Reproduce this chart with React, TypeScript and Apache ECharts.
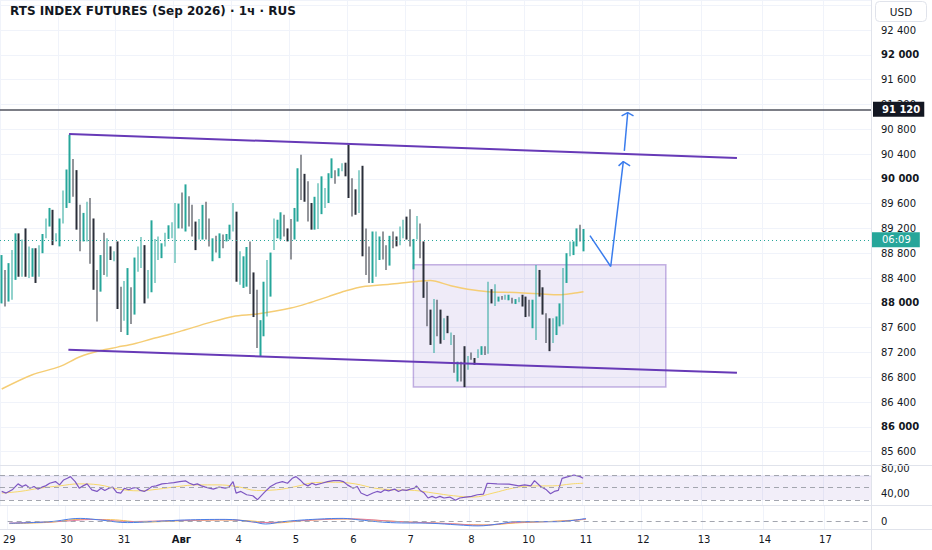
import React, { useEffect, useRef } from 'react';
import * as echarts from 'echarts';

// ---------- data ----------
const TITLE = 'RTS INDEX FUTURES (Sep 2026) · 1ч · RUS';
const N = 256; // hourly slots on the time axis (incl. future space)

const dayLabels = ['29', '30', '31', 'Авг', '4', '5', '6', '7', '8', '10', '11', '12', '13', '14', '17'];
const dayIndex = [0, 17, 34, 51, 68, 85, 102, 119, 137, 154, 171, 188, 206, 224, 242];

const highs = [
  88770, 88530, 88640, 88850, 89120, 89120, 89020, 89200, 88910, 88880, 88880, 88930, 89110, 89360, 89530, 89500, 89120,
  89360, 89810, 90150, 90710, 90320, 90140, 89580, 89450, 89630, 89690, 89360, 88530, 88770, 89130, 89040, 88910, 88830,
  88990, 88260, 88350, 88560, 88250, 88730, 88910, 89060, 88930, 88530, 89330, 89030, 89070, 88960, 89130, 89250, 89300,
  89610, 89600, 89780, 89910, 89720, 89580, 89310, 89350, 89580, 89630, 89360, 89040, 89080, 89120, 89100, 89110, 89260,
  89610, 89470, 88830, 88750, 88900, 88990, 88490, 88210, 87720, 88340, 88690, 88810, 89360, 89340, 89460, 89420, 89200,
  89350, 89530, 90170, 90390, 90080, 89960, 89610, 89710, 89930, 90040, 89850, 90090, 90330, 90140, 90170, 90250, 90260,
  90550, 90010, 89830, 90140, 90210, 89200, 88910, 89150, 89150, 89070, 89150, 88930, 89080, 89150, 89070, 89230, 89340,
  89390, 89510, 89030, 89400, 89280, 88990, 88340, 87890, 88060, 88050, 87890, 87750, 87790, 87520, 87480, 87050, 87050,
  87300, 87140, 87200, 87110, 87250, 87300, 87300, 88340, 88220, 88300, 88100, 88110, 88130, 88130, 88080, 88060, 88090,
  88130, 88100, 88050, 88050, 88610, 88530, 88250, 87830, 87750, 87750, 87780, 87990, 88560, 88800, 88990, 88990, 89200,
  89260, 89190,
];
const lows = [
  87990, 87940, 88020, 88050, 88370, 88420, 88420, 88420, 88400, 88420, 88320, 88420, 88800, 89040, 89230, 88930, 88990,
  88910, 89280, 89530, 89610, 89710, 89180, 88830, 88990, 88990, 88630, 88210, 87700, 88180, 88450, 88420, 88690, 88670,
  87900, 87530, 87710, 87480, 87660, 87810, 88500, 88560, 87990, 88070, 88170, 88320, 88690, 88720, 88910, 89030, 89040,
  88640, 89200, 89200, 89150, 89230, 89070, 88850, 89020, 89020, 89020, 88910, 88670, 88810, 88720, 88880, 88990, 89020,
  89150, 88340, 88290, 88240, 88260, 88140, 87770, 87270, 87130, 87460, 87780, 88100, 88850, 89040, 89020, 89070, 88990,
  88700, 89020, 89310, 89660, 89630, 89310, 89180, 89180, 89190, 89430, 89530, 89610, 90010, 89920, 90040, 90120, 90040,
  89690, 89390, 89420, 89450, 88750, 88450, 88320, 88320, 88420, 88690, 88700, 88530, 88600, 88880, 88910, 88930, 89040,
  89020, 88910, 88540, 89020, 88720, 88080, 87620, 87320, 87190, 87460, 87340, 87400, 87510, 87320, 86870, 86730, 86730,
  86640, 86920, 87080, 87000, 87110, 87160, 87160, 87180, 87990, 87950, 88020, 88050, 88050, 88040, 87990, 87980, 88010,
  87940, 87770, 87780, 87590, 87400, 88100, 87810, 87350, 87220, 87350, 87480, 87620, 87650, 88320, 88750, 88770, 88910,
  88990, 88830,
];
// 1 = rising (teal) candle, 0 = falling (dark) candle
const rising = [
  1, 0, 1, 1, 1, 0, 1, 0, 1, 1, 0, 1, 1, 1, 1, 0, 1,
  1, 1, 1, 1, 0, 0, 0, 1, 1, 0, 0, 0, 1, 0, 1, 0, 1,
  0, 0, 1, 1, 0, 1, 1, 1, 0, 1, 1, 1, 1, 1, 1, 1, 1,
  1, 1, 0, 1, 0, 0, 0, 1, 1, 0, 0, 1, 0, 1, 0, 1, 1,
  1, 0, 1, 1, 1, 0, 0, 0, 1, 1, 1, 1, 1, 1, 1, 0, 0,
  0, 1, 1, 0, 0, 0, 0, 1, 1, 1, 1, 1, 1, 0, 1, 1, 0,
  0, 0, 0, 1, 0, 0, 0, 1, 1, 1, 0, 0, 1, 0, 0, 1, 1,
  0, 0, 1, 1, 0, 0, 0, 0, 1, 0, 0, 1, 0, 1, 0, 1, 0,
  0, 1, 0, 0, 1, 1, 0, 1, 0, 1, 1, 0, 1, 1, 0, 1, 1,
  0, 0, 0, 1, 1, 0, 0, 0, 0, 1, 1, 1, 1, 1, 1, 1, 1,
  0, 1,
];

// moving average on price [slot, price]
const maPoints = [
  [0, 86610], [9, 86840], [17, 86970], [23, 87130], [29, 87230], [34, 87285], [39, 87340], [44, 87415], [50, 87500],
  [54, 87565], [61, 87680], [68, 87780], [75, 87820], [85, 87915], [91, 88010], [96, 88100], [101, 88190], [106, 88260],
  [114, 88300], [122, 88345], [126, 88360], [132, 88275], [137, 88220], [143, 88180], [151, 88165], [158, 88145],
  [164, 88130], [168, 88155], [171, 88180],
];

// drawings
const upperTrend = [[19.8, 90724], [216.1, 90337]];
const lowerTrend = [[19.6, 87242], [216.1, 86871]];
const rangeBox = [[121, 88612], [195.2, 86640]];
const arrowPath = [[172.9, 89084], [179, 88585], [182.7, 90277]];
const arrowHead1 = [[181.3, 90208], [182.7, 90277], [184.7, 90208]];
const arrowPath2 = [[183, 90450], [184, 91067]];
const arrowHead2 = [[182.2, 91014], [184, 91067], [185.7, 91014]];
const levelPrice = 91120;
const lastPrice = 89016;
const countdown = '06:09';

// RSI pane
const rsiPoints = [
  [0, 43.7], [1.3, 41.1], [3.1, 46.3], [4.8, 55.8], [6, 51.6], [7.1, 54.2], [8.3, 48.9], [9.5, 51.6], [10.6, 47.4],
  [11.8, 50.5], [12.9, 52.6], [14.1, 56.8], [15.8, 59.5], [17, 54.2], [18.2, 62.1], [19.3, 64.7], [20.2, 67.4],
  [21.6, 59.5], [22.8, 48.9], [23.9, 52.6], [25.1, 55.8], [26.5, 46.3], [28, 43.7], [29.2, 48.9], [30.3, 45.3],
  [31.5, 48.9], [32.6, 50.5], [33.8, 42.1], [35, 41.1], [36.1, 48.9], [37.3, 46.3], [38.4, 48.9], [39.6, 50],
  [40.7, 45.3], [41.9, 43.7], [43.1, 47.4], [44.2, 51.6], [45.4, 52.6], [47.1, 55.8], [48.9, 56.8], [50.6, 57.9],
  [52.3, 59.5], [54.1, 60.5], [55.2, 56.8], [56.4, 54.2], [57.5, 55.8], [58.7, 52.6], [59.9, 50.5], [61, 48.9],
  [62.2, 47.4], [63.9, 50.5], [65.7, 48.9], [66.8, 50.5], [68, 59.5], [68.9, 41.1], [70.3, 43.7], [72, 38.4],
  [73.8, 36.8], [75.2, 30.5], [76.1, 35.8], [77.2, 42.1], [79, 51.6], [80.7, 56.8], [82.5, 59.5], [84, 56.8],
  [85.4, 64.7], [86.5, 67.4], [87.7, 62.1], [88.8, 55.8], [90, 52.6], [91.2, 56.8], [92.3, 54.2], [94.1, 56.8],
  [95.8, 59.5], [97.5, 61.1], [99.3, 61.1], [100.4, 59.5], [101.6, 54.2], [103.3, 48.9], [104.5, 51.6], [105.6, 41.1],
  [107.4, 36.8], [109.1, 41.1], [110.3, 43.7], [111.4, 42.1], [112.6, 46.3], [113.7, 44.7], [115.5, 47.4],
  [116.6, 43.7], [117.8, 46.3], [119, 45.3], [120.1, 47.4], [121.3, 48.9], [121.9, 52.6], [123, 45.3], [124.2, 41.1],
  [125.3, 33.2], [126.5, 35.8], [127.6, 33.2], [128.8, 35.8], [130, 33.2], [131.7, 34.7], [133.4, 29.5], [134.6, 33.2],
  [136.4, 34.7], [138.1, 35.8], [139.8, 38.4], [141.6, 39.5], [142.7, 56.8], [145.6, 55.8], [149.1, 55.3], [152, 52.6],
  [153.7, 54.2], [155.5, 52.6], [156.6, 61.1], [158.4, 51.6], [160.1, 46.3], [161.3, 40], [162.4, 43.7], [163.6, 45.3],
  [164.7, 64.7], [166.5, 67.4], [168.2, 70], [170, 67.4], [170.9, 64.7],
];
const rsiMaPoints = [
  [0, 41.1], [5.4, 43.7], [11.2, 48.9], [17, 52.6], [22.8, 55.8], [28.6, 54.2], [34.4, 47.4], [40.2, 44.7], [46, 47.4],
  [51.8, 51.6], [57.6, 54.2], [63.3, 54.2], [69.1, 51.6], [74.9, 45.3], [80.7, 46.3], [86.5, 51.6], [92.3, 57.9],
  [98.1, 58.4], [103.9, 55.8], [109.7, 48.9], [115.5, 46.3], [121.3, 45.3], [127, 41.1], [132.8, 36.8], [138.6, 34.7],
  [144.4, 41.1], [150.2, 48.9], [156, 52.6], [161.8, 52.6], [167.6, 55.8], [170.9, 56.8],
];
const rsiBands = [70, 50, 30];

// lower oscillator pane
const oscBlue = [
  [0, -2.3], [12, -0.7], [21, 2.6], [27, 1], [35, -1.6], [42, -0.7], [52, 1], [64, 1.6], [72, -0.7], [76, -3],
  [81, -0.7], [90, 1.6], [99, 2.6], [104, 1], [113, -1.6], [125, -2.3], [133, -3.9], [139, -4.9], [145, -3],
  [150, -0.7], [162, -0.7], [171, 2.6],
];
const oscOrange = [
  [0, -2.6], [12, -1.3], [21, 1.6], [30, 1.3], [40, -1], [52, 0.3], [64, 1], [72, 0], [78, -2], [88, 0.5], [99, 2],
  [108, 0.8], [118, -1], [128, -2.3], [136, -3.6], [142, -3.9], [150, -2], [160, -0.5], [171, 1.6],
];
const oscPink = [
  [0, -2], [15, -0.5], [25, 1.5], [35, -0.5], [50, 0.5], [65, 1.2], [75, -1.5], [90, 1], [100, 2.2], [115, -0.5],
  [130, -2.5], [140, -4.2], [150, -1.5], [165, 0], [171, 2],
];

// ---------- styling ----------
const FONT = '"DejaVu Sans", sans-serif';
const UP = '#26a69a';
const DOWN = '#2a2e39';
const TEXT = '#131722';
const GRIDC = '#f0f3fa';
const BORDER = '#e0e3eb';
const PURPLE = '#673ab7';
const BLUE = '#3b7ded';

function fmtPrice(v: number) {
  const t = Math.floor(v / 1000);
  const r = String(Math.round(v % 1000)).padStart(3, '0');
  return `${t} ${r}`;
}

export default function App() {
  const ref = useRef<HTMLDivElement>(null);

  useEffect(() => {
    document.body.style.margin = '0';
    if (!ref.current) return;
    const chart = echarts.init(ref.current, null, { renderer: 'svg' });

    const cats = Array.from({ length: N }, (_, i) => String(i));
    const labelAt: Record<number, string> = {};
    dayIndex.forEach((d, k) => (labelAt[d] = dayLabels[k]));
    const isDay = (i: number) => labelAt[i] !== undefined;

    const candles = highs.map((h, i) => (rising[i] ? [lows[i], h, lows[i], h] : [h, lows[i], lows[i], h]));

    const catAxis = (gi: number, showLabels: boolean) => ({
      type: 'category',
      gridIndex: gi,
      data: cats,
      boundaryGap: true,
      axisLine: { show: false },
      axisTick: { show: false },
      axisLabel: showLabels
        ? {
            show: true,
            interval: (i: number) => isDay(i),
            formatter: (_v: string, i: number) => {
              const s = labelAt[i] ?? '';
              return s === 'Авг' ? `{b|${s}}` : s;
            },
            color: TEXT,
            fontFamily: FONT,
            fontSize: 10,
            margin: 5,
            rich: { b: { fontWeight: 'bold', fontFamily: FONT, fontSize: 10, color: TEXT } },
          }
        : { show: false },
      splitLine: { show: true, interval: (i: number) => isDay(i), lineStyle: { color: GRIDC, width: 1 } },
    });
    const valAxis = (gi: number) => ({ type: 'value', gridIndex: gi, min: -0.5, max: N - 0.5, show: false });

    const lineSeries = (data: number[][], xi: number, yi: number, color: string, width: number, z: number, extra = {}) => ({
      type: 'line',
      xAxisIndex: xi,
      yAxisIndex: yi,
      data,
      symbol: 'none',
      showSymbol: false,
      silent: true,
      z,
      lineStyle: { color, width },
      ...extra,
    });

    const option: any = {
      animation: false,
      backgroundColor: '#ffffff',
      grid: [
        { left: 0, right: 61, top: 0, height: 476.4 },
        { left: 0, right: 61, top: 466, height: 40.25 },
        { left: 0, right: 61, top: 506, height: 23 },
      ],
      xAxis: [catAxis(0, false), valAxis(0), catAxis(1, false), valAxis(1), catAxis(2, true), valAxis(2)],
      yAxis: [
        {
          type: 'value',
          gridIndex: 0,
          position: 'right',
          min: 85200,
          max: 92884,
          interval: 400,
          axisLine: { show: false },
          axisTick: { show: false },
          splitLine: { show: true, lineStyle: { color: GRIDC, width: 1 } },
          axisLabel: {
            margin: 10,
            color: TEXT,
            fontFamily: FONT,
            fontSize: 10,
            formatter: (v: number) => {
              if (v % 400 !== 0 || v < 85500 || v > 92500) return '';
              const s = fmtPrice(v);
              return v % 2000 === 0 ? `{b|${s}}` : `{n|${s}}`;
            },
            rich: {
              b: { fontWeight: 'bold', fontFamily: FONT, fontSize: 10, color: TEXT },
              n: { fontFamily: FONT, fontSize: 10, color: TEXT },
            },
          },
        },
        {
          type: 'value',
          gridIndex: 1,
          position: 'right',
          min: 20,
          max: 84.4,
          interval: 10,
          axisLine: { show: false },
          axisTick: { show: false },
          splitLine: { show: false },
          axisLabel: {
            margin: 10,
            color: TEXT,
            fontFamily: FONT,
            fontSize: 10,
            formatter: (v: number) => (v === 40 ? '40,00' : v === 80 ? '80,00' : ''),
          },
        },
        {
          type: 'value',
          gridIndex: 2,
          position: 'right',
          min: -8,
          max: 15,
          interval: 8,
          axisLine: { show: false },
          axisTick: { show: false },
          splitLine: { show: false },
          axisLabel: {
            margin: 10,
            color: TEXT,
            fontFamily: FONT,
            fontSize: 10,
            formatter: (v: number) => (v === 0 ? '0' : ''),
          },
        },
      ],
      series: [
        {
          type: 'candlestick',
          xAxisIndex: 0,
          yAxisIndex: 0,
          data: candles,
          barWidth: 2,
          z: 3,
          itemStyle: { color: UP, color0: DOWN, borderColor: UP, borderColor0: DOWN, borderWidth: 0 },
          markLine: {
            silent: true,
            symbol: ['none', 'none'],
            animation: false,
            data: [
              {
                yAxis: levelPrice,
                lineStyle: { color: '#50535e', width: 1.5, type: 'solid' },
                label: {
                  show: true,
                  position: 'end',
                  distance: 2,
                  formatter: fmtPrice(levelPrice),
                  backgroundColor: TEXT,
                  color: '#ffffff',
                  fontFamily: FONT,
                  fontSize: 10,
                  fontWeight: 'bold',
                  padding: [3, 4, 2, 9],
                },
              },
              {
                yAxis: lastPrice,
                lineStyle: { color: UP, width: 1, type: [1, 3] },
                label: {
                  show: true,
                  position: 'end',
                  distance: 1,
                  formatter: countdown,
                  backgroundColor: UP,
                  color: '#ffffff',
                  fontFamily: FONT,
                  fontSize: 10,
                  padding: [3, 9, 2, 10],
                },
              },
            ],
          },
        },
        lineSeries(maPoints, 1, 0, '#f5cd75', 1.5, 2, {
          smooth: 0.3,
          markArea: {
            silent: true,
            itemStyle: { color: 'rgba(126, 87, 194, 0.12)', borderColor: 'rgba(126, 87, 194, 0.45)', borderWidth: 1.5 },
            data: [[{ coord: rangeBox[0] }, { coord: rangeBox[1] }]],
          },
        }),
        lineSeries(upperTrend, 1, 0, PURPLE, 2, 4),
        lineSeries(lowerTrend, 1, 0, PURPLE, 2, 4),
        lineSeries(arrowPath, 1, 0, BLUE, 1.5, 5),
        lineSeries(arrowHead1, 1, 0, BLUE, 1.5, 5),
        lineSeries(arrowPath2, 1, 0, BLUE, 1.5, 5),
        lineSeries(arrowHead2, 1, 0, BLUE, 1.5, 5),
        // RSI pane
        lineSeries(rsiPoints, 3, 1, '#7e57c2', 1.2, 4, {
          markArea: {
            silent: true,
            itemStyle: { color: 'rgba(126, 87, 194, 0.1)' },
            data: [[{ yAxis: rsiBands[2] }, { yAxis: rsiBands[0] }]],
          },
          markLine: {
            silent: true,
            symbol: ['none', 'none'],
            label: { show: false },
            lineStyle: { color: '#a3a6af', width: 1, type: [5, 4] },
            data: rsiBands.map((b) => ({ yAxis: b })),
          },
        }),
        lineSeries(rsiMaPoints, 3, 1, '#f6d86b', 1, 3, { smooth: 0.4 }),
        // lower oscillator pane
        lineSeries(oscOrange, 5, 2, '#f5b94a', 1, 3, { smooth: 0.4 }),
        lineSeries(oscPink, 5, 2, '#e07aa0', 1, 3, { smooth: 0.4 }),
        lineSeries(oscBlue, 5, 2, '#4a7fe8', 1, 4, {
          smooth: 0.4,
          markLine: {
            silent: true,
            symbol: ['none', 'none'],
            label: { show: false },
            lineStyle: { color: '#a3a6af', width: 1, type: [5, 4] },
            data: [{ yAxis: 0 }],
          },
        }),
      ],
      graphic: [
        { type: 'line', shape: { x1: 0, y1: 465.5, x2: 932, y2: 465.5 }, style: { stroke: BORDER, lineWidth: 1 }, z: 50 },
        { type: 'line', shape: { x1: 0, y1: 505.5, x2: 932, y2: 505.5 }, style: { stroke: BORDER, lineWidth: 1 }, z: 50 },
        { type: 'line', shape: { x1: 0, y1: 529.5, x2: 932, y2: 529.5 }, style: { stroke: BORDER, lineWidth: 1 }, z: 50 },
        { type: 'line', shape: { x1: 871.5, y1: 0, x2: 871.5, y2: 550 }, style: { stroke: BORDER, lineWidth: 1 }, z: 50 },
        {
          type: 'text',
          x: 10,
          y: 5,
          z: 60,
          style: { text: TITLE, font: `bold 12px ${FONT}`, fill: TEXT },
        },
        {
          type: 'rect',
          z: 60,
          shape: { x: 875.5, y: 1.5, width: 51, height: 20, r: 4 },
          style: { fill: '#ffffff', stroke: BORDER, lineWidth: 1 },
        },
        {
          type: 'text',
          x: 901,
          y: 12,
          z: 61,
          style: { text: 'USD', font: `10.5px ${FONT}`, fill: TEXT, align: 'center', verticalAlign: 'middle' },
        },
      ],
    };

    chart.setOption(option);
    return () => chart.dispose();
  }, []);

  return <div ref={ref} style={{ position: 'fixed', left: 0, top: 0, width: 932, height: 550 }} />;
}
